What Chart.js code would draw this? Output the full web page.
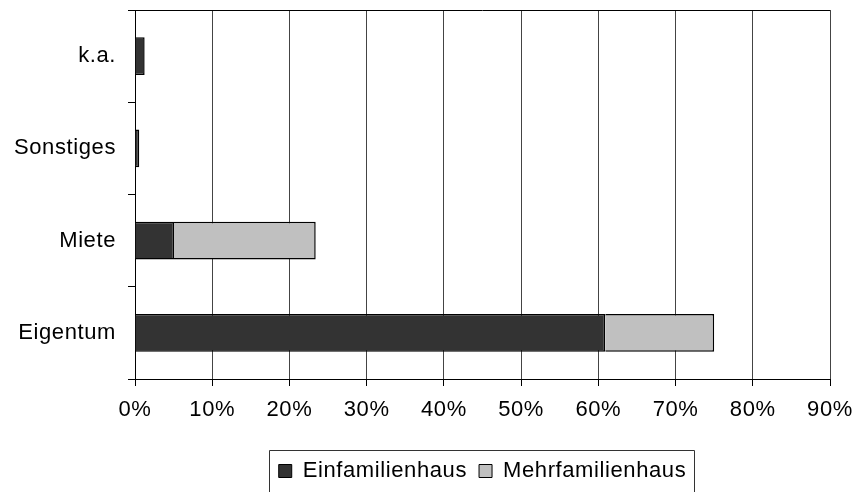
<!DOCTYPE html>
<html>
<head>
<meta charset="utf-8">
<script src="https://cdn.jsdelivr.net/npm/chart.js@4"></script>
<style>
  html, body { margin: 0; padding: 0; background: #fff; }
  #wrap { width: 853px; height: 492px; position: relative; }
</style>
</head>
<body>
<div id="wrap"><canvas id="c" width="853" height="492"></canvas></div>
<script>
const categories = ['k.a.', 'Sonstiges', 'Miete', 'Eigentum'];
const seriesNames = ['Einfamilienhaus', 'Mehrfamilienhaus'];
const einfamilienhaus = [1.25, 0.55, 5.05, 60.9];
const mehrfamilienhaus = [null, null, 18.35, 14.1];
const xTicks = [0, 10, 20, 30, 40, 50, 60, 70, 80, 90];

const FONT = { family: '"Liberation Sans", Arial, sans-serif', size: 22 };
const SPACING = '0.6px';

const spacing = {
  id: 'spacing',
  beforeUpdate(chart) { try { chart.ctx.letterSpacing = SPACING; } catch (e) {} },
  beforeLayout(chart) { try { chart.ctx.letterSpacing = SPACING; } catch (e) {} },
  beforeDraw(chart) { try { chart.ctx.letterSpacing = SPACING; } catch (e) {} }
};

const frame = {
  id: 'frame',
  afterDraw(chart) {
    const { ctx, chartArea: a } = chart;
    ctx.save();
    ctx.strokeStyle = '#000';
    ctx.lineWidth = 1;
    ctx.beginPath();
    ctx.moveTo(a.left, Math.round(a.top) + 0.5);
    ctx.lineTo(a.right, Math.round(a.top) + 0.5);
    ctx.stroke();
    const lg = chart.legend;
    if (lg && lg.legendHitBoxes && lg.legendHitBoxes.length) {
      const hb = lg.legendHitBoxes;
      const l = hb[0].left - 10;
      const r = hb[hb.length - 1].left + hb[hb.length - 1].width + 8;
      const t = hb[0].top - 10;
      ctx.strokeStyle = '#333';
      ctx.beginPath();
      ctx.moveTo(Math.round(l) + 0.5, 492);
      ctx.lineTo(Math.round(l) + 0.5, Math.round(t) + 0.5);
      ctx.lineTo(Math.round(r) + 0.5, Math.round(t) + 0.5);
      ctx.lineTo(Math.round(r) + 0.5, 492);
      ctx.stroke();
    }
    ctx.restore();
  }
};

new Chart(document.getElementById('c'), {
  type: 'bar',
  data: {
    labels: categories,
    datasets: [
      { label: seriesNames[0], data: einfamilienhaus, backgroundColor: '#333333', borderColor: '#000', borderWidth: 1.5, barPercentage: 0.41, categoryPercentage: 1 },
      { label: seriesNames[1], data: mehrfamilienhaus, backgroundColor: '#c0c0c0', borderColor: '#000', borderWidth: 1.5, barPercentage: 0.41, categoryPercentage: 1 }
    ]
  },
  options: {
    indexAxis: 'y',
    responsive: false,
    animation: false,
    devicePixelRatio: 1,
    layout: { padding: { left: 0, right: 23, top: 10, bottom: 0 } },
    scales: {
      x: {
        stacked: true,
        min: 0, max: 90,
        afterBuildTicks(scale) { scale.ticks = xTicks.map(v => ({ value: v })); },
        afterFit(scale) { scale.height = 69; scale.paddingLeft = 0; scale.paddingRight = 0; },
        ticks: { color: '#000', font: FONT, padding: 11, callback: v => v + '%' },
        grid: { color: '#444', lineWidth: 1, tickLength: 7, tickColor: '#000' },
        border: { color: '#000', width: 1 }
      },
      y: {
        stacked: true,
        afterFit(scale) { scale.width = 135; scale.paddingTop = 0; scale.paddingBottom = 0; },
        ticks: { color: '#000', font: FONT, padding: 12 },
        grid: { display: true, drawOnChartArea: false, offset: true, tickLength: 7, color: '#000' },
        border: { color: '#000', width: 1 }
      }
    },
    plugins: {
      legend: {
        position: 'bottom',
        fullSize: false,
        labels: { color: '#000', font: FONT, boxWidth: 13, boxHeight: 13, padding: 12,
          generateLabels(chart) {
            return chart.data.datasets.map((d, i) => ({
              text: d.label, fillStyle: d.backgroundColor, strokeStyle: '#000', lineWidth: 1, datasetIndex: i, hidden: false
            }));
          }
        }
      },
      tooltip: { enabled: false }
    }
  },
  plugins: [spacing, frame]
});
</script>
</body>
</html>
